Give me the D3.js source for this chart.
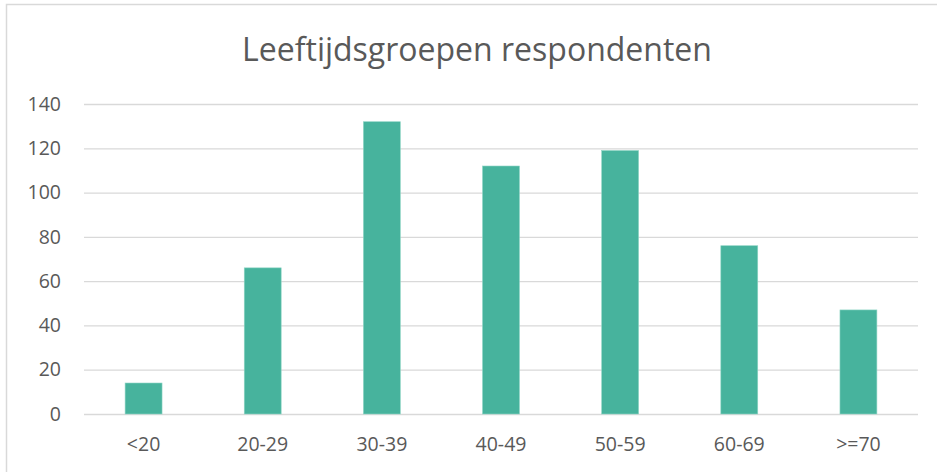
<!DOCTYPE html>
<html>
<head>
<meta charset="utf-8">
<script src="https://cdn.jsdelivr.net/npm/d3@7"></script>
<style>
  html, body { margin: 0; padding: 0; background: #fff; }
  svg { display: block; }
</style>
</head>
<body>
<svg id="chart" width="937" height="472"></svg>
<script>
const categories = ["<20", "20-29", "30-39", "40-49", "50-59", "60-69", ">=70"];
const values = [14, 66, 132, 112, 119, 76, 47];
const yTicks = [0, 20, 40, 60, 80, 100, 120, 140];
const title = "Leeftijdsgroepen respondenten";

const W = 937, H = 472;
const margin = { left: 84, right: 19, top: 104, bottom: 58 };
const svg = d3.select("#chart");
const font = "'Open Sans', 'Noto Sans', sans-serif";
const textColor = "#595959";

// chart border (cropped at right/bottom)
svg.append("rect")
  .attr("x", 6.5).attr("y", 4.5)
  .attr("width", W + 20).attr("height", H + 20)
  .attr("fill", "none").attr("stroke", "#d9d9d9").attr("stroke-width", 1.5);

const x = d3.scaleBand().domain(categories)
  .range([margin.left, W - margin.right])
  .paddingInner(0.69).paddingOuter(0.345);
const y = d3.scaleLinear().domain([0, 140])
  .range([H - margin.bottom, margin.top]);

// gridlines
const yAxis = d3.axisLeft(y).tickValues(yTicks)
  .tickSize(-(W - margin.right - margin.left)).tickPadding(23);
const gy = svg.append("g")
  .attr("transform", `translate(${margin.left},0)`)
  .call(yAxis);
gy.select(".domain").remove();
gy.selectAll(".tick line").attr("stroke", "#d9d9d9").attr("stroke-width", 1.3);
gy.selectAll(".tick text")
  .attr("fill", textColor).attr("font-family", font).attr("font-size", 19.5);

// bars
svg.append("g").selectAll("rect")
  .data(categories.map((c, i) => ({ c, v: values[i] })))
  .join("rect")
  .attr("x", d => x(d.c))
  .attr("y", d => y(d.v))
  .attr("width", x.bandwidth())
  .attr("height", d => y(0) - y(d.v))
  .attr("fill", "#47B39D")
  .attr("stroke", "#8fd5c5")
  .attr("stroke-width", 0.6);

// x axis labels
const xAxis = d3.axisBottom(x).tickSize(0).tickPadding(23);
const gx = svg.append("g")
  .attr("transform", `translate(0,${H - margin.bottom})`)
  .call(xAxis);
gx.select(".domain").remove();
gx.selectAll(".tick text")
  .attr("fill", textColor).attr("font-family", font).attr("font-size", 19.5);

// title
const t = svg.append("text")
  .attr("x", 477).attr("y", 61)
  .attr("text-anchor", "middle")
  .attr("fill", textColor)
  .attr("font-family", font)
  .attr("font-weight", 400)
  .attr("font-size", 30)
  .text(title);
const len = t.node().getComputedTextLength();
t.attr("font-size", 30 * 470 / len);
</script>
</body>
</html>
